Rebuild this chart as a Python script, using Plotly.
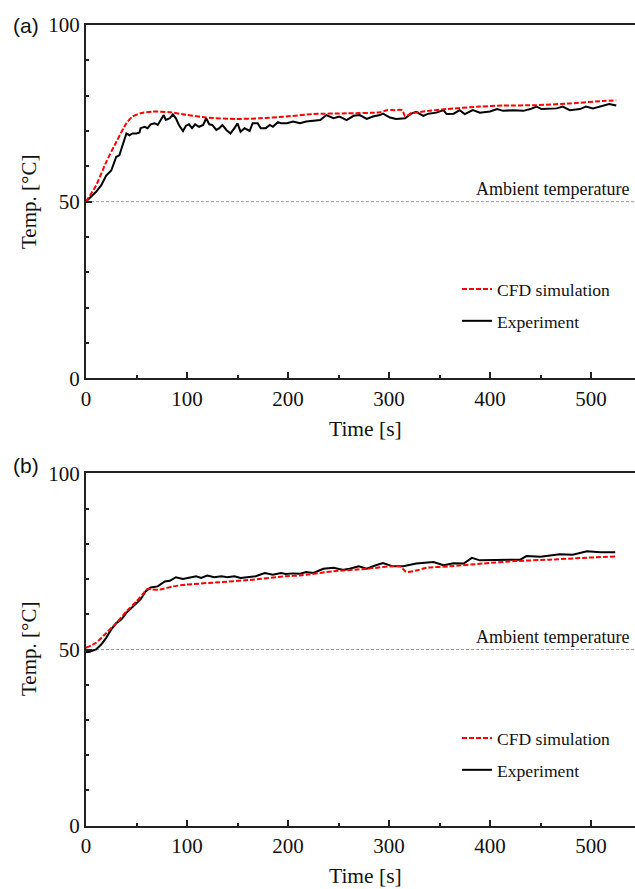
import plotly.graph_objects as go

# ---------------- data ----------------
# Panel (a)
a_cfd_t = [0, 10, 20, 30, 40, 46, 54, 66, 83, 99, 119, 149, 172, 198, 225, 258, 291, 298,
           305, 313, 316, 322, 334, 357, 390, 413, 446, 479, 512, 525]
a_cfd_T = [50, 54.6, 61.2, 66.9, 72.2, 74.1, 75.0, 75.5, 75.3, 74.6, 73.8, 73.4, 73.6, 74.1,
           74.8, 75.0, 75.3, 75.9, 75.9, 75.9, 74.1, 75.0, 75.5, 76.2, 76.9, 77.2, 77.3, 77.8,
           78.5, 78.7]

a_exp_t = [0, 5, 10, 15, 20, 25, 30, 33, 36, 40, 43, 46, 50, 53, 54, 58, 61, 64, 68, 71, 74, 77,
           79, 83, 86, 89, 92, 96, 99, 102, 105, 108, 112, 116, 119, 122, 125, 129, 132, 135, 139,
           143, 147, 150, 153, 157, 162, 165, 170, 173, 178, 182, 185, 190, 193, 199, 205, 212,
           218, 225, 232, 238, 245, 251, 258, 265, 271, 278, 284, 291, 294, 301, 307, 316, 322,
           327, 334, 339, 347, 354, 357, 364, 370, 375, 383, 390, 400, 407, 413, 423, 433, 440,
           446, 451, 459, 466, 472, 479, 489, 495, 502, 512, 518, 525]
a_exp_T = [50, 51.4, 52.8, 54.6, 57.4, 58.8, 62.7, 63.1, 66.0, 69.3, 68.8, 69.3, 69.3, 69.6, 70.8,
           71.2, 70.8, 71.9, 72.2, 71.7, 73.1, 74.5, 73.1, 73.6, 74.7, 73.6, 71.7, 70.0, 71.5, 71.9,
           70.8, 71.9, 71.2, 71.7, 73.6, 71.9, 71.7, 70.3, 70.8, 71.7, 70.3, 69.3, 70.8, 72.2, 69.8,
           70.8, 70.0, 72.2, 72.2, 70.8, 70.8, 71.7, 71.2, 72.5, 72.2, 72.2, 72.7, 72.2, 72.7,
           72.8, 73.1, 74.5, 73.6, 74.1, 73.1, 74.3, 74.5, 73.4, 74.1, 74.5, 74.9, 73.8, 73.4,
           73.6, 74.9, 75.4, 74.3, 74.9, 75.2, 75.9, 74.8, 74.9, 75.9, 74.8, 75.9, 75.2, 75.5,
           76.2, 75.7, 75.9, 75.7, 76.2, 76.9, 76.2, 76.2, 76.4, 76.9, 75.9, 76.2, 76.9, 76.4,
           77.2, 77.6, 77.2]

# Panel (b)
b_cfd_t = [0, 10, 20, 30, 40, 50, 56, 61, 66, 73, 86, 99, 132, 165, 198, 212, 245, 278, 311,
           317, 327, 337, 360, 393, 426, 459, 492, 524]
b_cfd_T = [50.5, 51.9, 54.7, 57.5, 60.8, 63.7, 65.6, 67.2, 67.0, 67.0, 67.9, 68.4, 69.1, 69.8,
           70.8, 71.0, 72.2, 72.9, 73.6, 72.0, 72.4, 73.2, 73.6, 74.4, 75.1, 75.5, 76.0, 76.4]

b_exp_t = [0, 3, 10, 15, 20, 25, 30, 35, 40, 45, 50, 54, 59, 64, 71, 78, 83, 89, 96, 102, 109,
           114, 120, 127, 134, 140, 147, 153, 160, 168, 177, 185, 193, 198, 205, 212, 218, 225,
           235, 245, 255, 261, 270, 278, 287, 294, 304, 314, 327, 344, 354, 364, 374, 382, 390,
           410, 430, 436, 450, 469, 482, 496, 509, 524]
b_exp_T = [49.3, 49.3, 50.0, 51.4, 53.3, 55.7, 57.5, 58.5, 60.4, 61.8, 63.2, 64.2, 66.5, 67.6,
           67.9, 69.3, 69.5, 70.5, 70.0, 70.3, 70.8, 70.3, 71.0, 70.5, 70.8, 70.5, 70.8, 70.3,
           70.5, 70.8, 71.7, 71.2, 71.7, 71.4, 71.6, 71.5, 72.0, 71.7, 72.9, 73.2, 72.6, 72.9,
           73.6, 72.9, 73.9, 74.5, 73.6, 73.6, 74.4, 74.8, 73.9, 74.5, 74.4, 76.0, 75.3, 75.3,
           75.5, 76.5, 76.3, 77.0, 76.9, 77.9, 77.6, 77.6]

ambient_T = 50
x_ticks = [0, 100, 200, 300, 400, 500]
y_ticks = [0, 50, 100]
panel_labels = ["(a)", "(b)"]
series_names = ["CFD simulation", "Experiment"]
x_title = "Time [s]"
y_title = "Temp. [°C]"
ambient_label = "Ambient temperature"

# ---------------- figure ----------------
W, H = 635, 889
L = 86
PW = W - L
SERIF = "Liberation Serif, Times New Roman, serif"
SANS = "Liberation Sans, Arial, sans-serif"
AX = "#222222"


def py(px):
    return 1 - px / H


def px_x(px):
    return (px - L) / PW


fig = go.Figure()

panels = [
    dict(cfd=(a_cfd_t, a_cfd_T), exp=(a_exp_t, a_exp_T), xa="x", ya="y", leg="legend"),
    dict(cfd=(b_cfd_t, b_cfd_T), exp=(b_exp_t, b_exp_T), xa="x2", ya="y2", leg="legend2"),
]

for k, p in enumerate(panels):
    fig.add_trace(go.Scatter(x=p["exp"][0], y=p["exp"][1], mode="lines", name=series_names[1],
                             line=dict(color="black", width=2), xaxis=p["xa"], yaxis=p["ya"],
                             legend=p["leg"], legendgroup=f"exp{k}", legendrank=2))
    fig.add_trace(go.Scatter(x=p["cfd"][0], y=p["cfd"][1], mode="lines", name=series_names[0],
                             line=dict(color="#ff0000", width=2, dash="5px,2px", shape="spline",
                                       smoothing=0.6),
                             xaxis=p["xa"], yaxis=p["ya"], legend=p["leg"],
                             legendgroup=f"cfd{k}", legendrank=1))

xmax = PW / 1.01
common_x = dict(range=[0, xmax], showline=True, linecolor=AX, linewidth=2, mirror=True,
                ticks="inside", ticklen=6, tickwidth=2, tickcolor=AX, tickvals=x_ticks,
                minor=dict(ticks="inside", ticklen=3, tickwidth=1.5, tickcolor=AX, dtick=50),
                showgrid=False, zeroline=False, automargin=False,
                tickfont=dict(family=SERIF, size=21, color="#111"))
common_y = dict(range=[0, 100], showline=True, linecolor=AX, linewidth=2, mirror=False,
                ticks="inside", ticklen=6, tickwidth=2, tickcolor=AX, tickvals=y_ticks,
                minor=dict(ticks="inside", ticklen=3, tickwidth=1.5, tickcolor=AX, dtick=10),
                showgrid=False, zeroline=False, automargin=False,
                tickfont=dict(family=SERIF, size=21, color="#111"))

top_dom = [py(378.3), py(25)]
bot_dom = [py(825.7), py(473.3)]

legend_common = dict(font=dict(family=SERIF, size=17.6, color="#111"), bgcolor="rgba(0,0,0,0)",
                     traceorder="grouped", xanchor="left", yanchor="top", itemwidth=30,
                     tracegroupgap=6)

fig.update_layout(
    width=W, height=H,
    margin=dict(l=L, r=0, t=0, b=0, autoexpand=False),
    paper_bgcolor="white", plot_bgcolor="white",
    xaxis=dict(domain=[0, 1], anchor="y", **common_x),
    yaxis=dict(domain=top_dom, anchor="x", **common_y),
    xaxis2=dict(domain=[0, 1], anchor="y2", **common_x),
    yaxis2=dict(domain=bot_dom, anchor="x2", **common_y),
    legend=dict(x=px_x(457), y=py(271), **legend_common),
    legend2=dict(x=px_x(457), y=py(720), **legend_common),
    showlegend=True,
)

annotations = []
shapes = []
for i, (yref, dom, lab_c, ytitle_c, xtitle_c) in enumerate([
        ("y", top_dom, 25, 202, 429),
        ("y2", bot_dom, 465, 649, 876)]):
    shapes.append(dict(type="line", xref="paper", x0=0, x1=1, yref=yref, y0=ambient_T, y1=ambient_T,
                       line=dict(color="#9a9a9a", width=1, dash="3px,2px"), layer="below"))
    annotations.append(dict(text=ambient_label, xref="paper", x=px_x(631), xanchor="right",
                            yref=yref, y=ambient_T, yanchor="bottom", yshift=1, showarrow=False,
                            font=dict(family=SERIF, size=18, color="#111")))
    annotations.append(dict(text=panel_labels[i], xref="paper", x=px_x(26), xanchor="center",
                            yref="paper", y=py(lab_c), yanchor="middle", showarrow=False,
                            font=dict(family=SANS, size=21, color="#111")))
    annotations.append(dict(text=y_title, xref="paper", x=px_x(29), xanchor="center",
                            yref="paper", y=py(ytitle_c), yanchor="middle", showarrow=False,
                            textangle=-90, font=dict(family=SERIF, size=21, color="#111")))
    annotations.append(dict(text=x_title, xref="paper", x=px_x(365), xanchor="center",
                            yref="paper", y=py(xtitle_c), yanchor="middle", showarrow=False,
                            font=dict(family=SERIF, size=21.5, color="#111")))

fig.update_layout(annotations=annotations, shapes=shapes)

fig.write_html("out.html")
